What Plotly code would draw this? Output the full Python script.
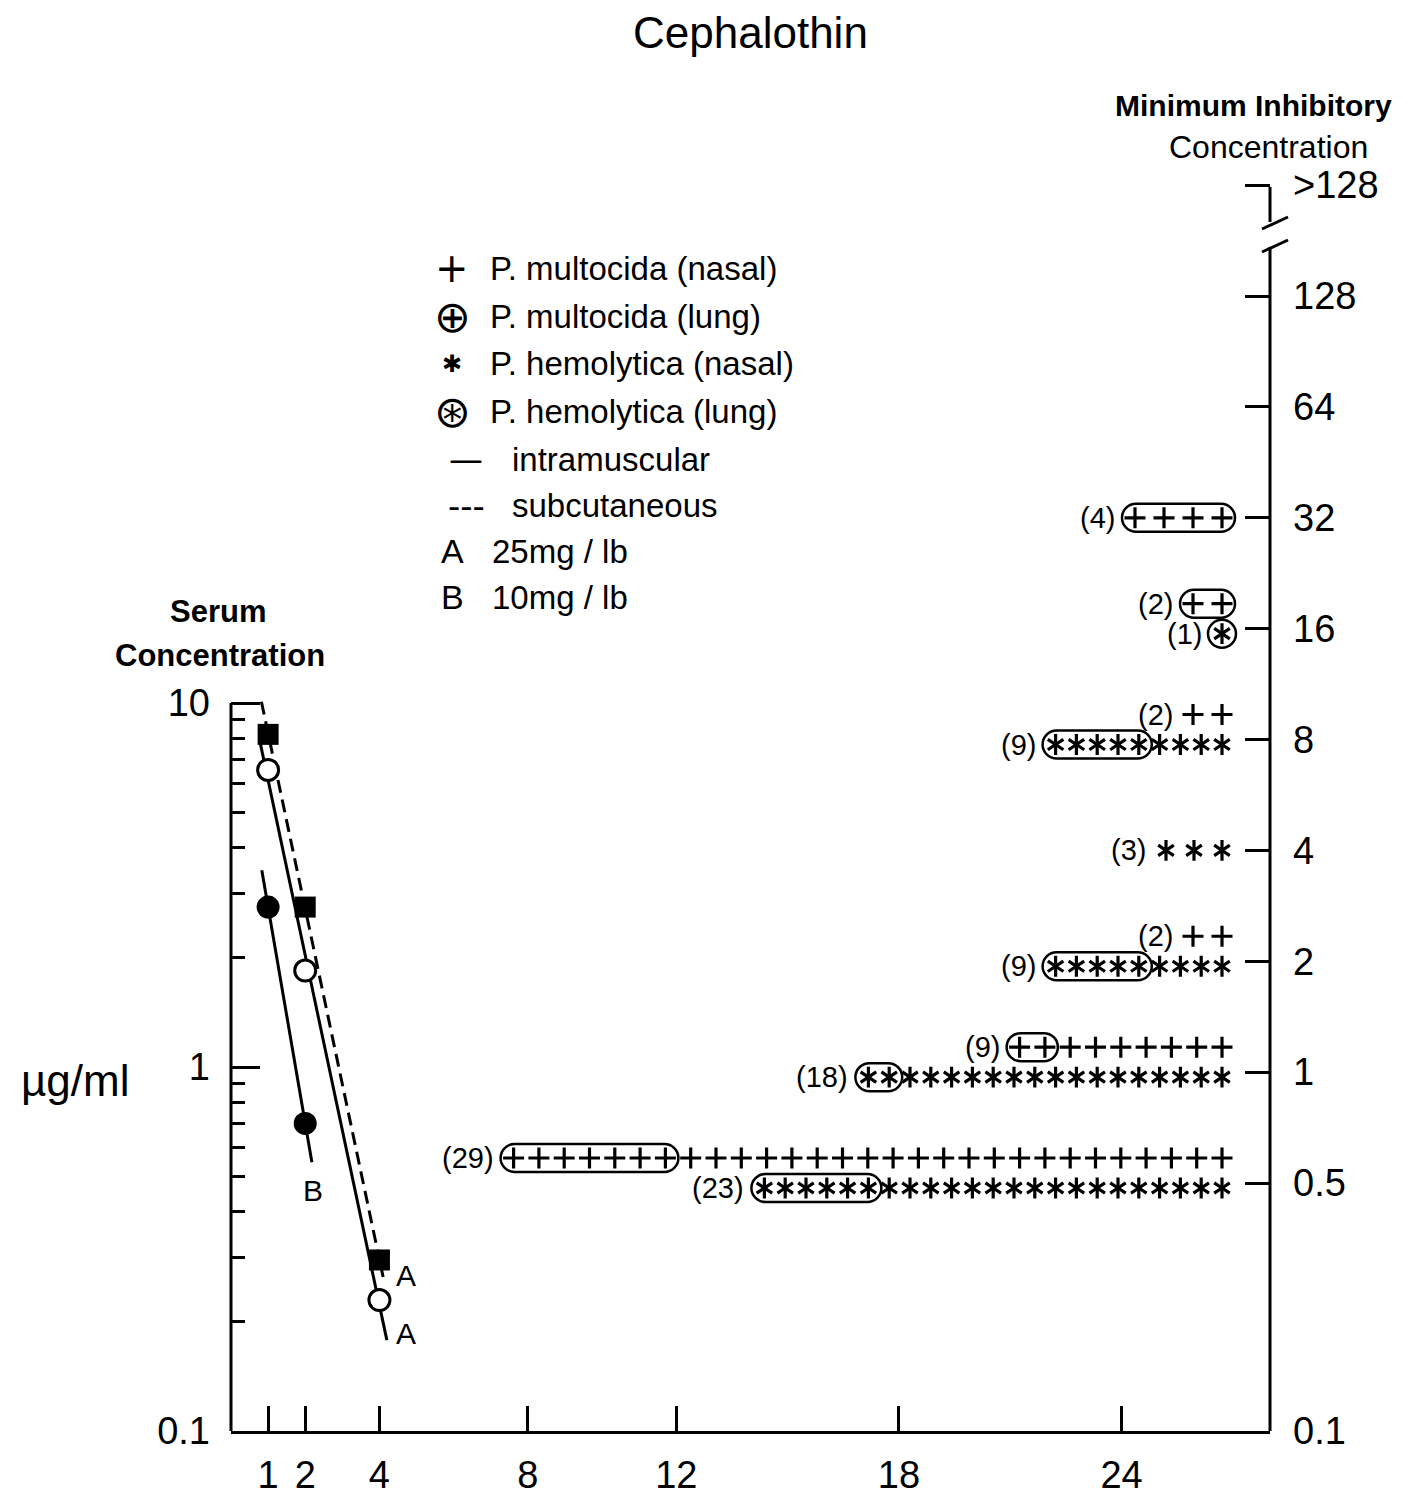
import numpy as np
import plotly.graph_objects as go

# ---------------- data ----------------
# Serum concentration (µg/ml) versus time (hours)
time_A = [1, 2, 4]
sc_A = [8.2, 2.75, 0.295]      # subcutaneous, 25 mg/lb (filled squares)
im_A = [6.55, 1.84, 0.229]     # intramuscular, 25 mg/lb (open circles)
time_B = [1, 2]
im_B = [2.75, 0.70]            # intramuscular, 10 mg/lb (filled circles)
# hours spanned by each fitted decay line
sc_A_span = [0.82, 4.1]
im_A_span = [0.78, 4.2]
im_B_span = [0.83, 2.18]

# Minimum inhibitory concentration distribution (number of isolates)
mic_levels = [32, 16, 8, 4, 2, 1, 0.5]
mult_nasal = [0, 0, 2, 0, 2, 7, 22]
mult_lung = [4, 2, 0, 0, 0, 2, 7]
hemo_nasal = [0, 0, 4, 3, 4, 16, 17]
hemo_lung = [0, 1, 5, 0, 5, 2, 6]

hour_ticks = [1, 2, 4, 8, 12, 18, 24]
serum_ticks = [0.1, 1, 10]
serum_ticktext = ["0.1", "1", "10"]
serum_minor = [0.2, 0.3, 0.4, 0.5, 0.6, 0.7, 0.8, 0.9, 2, 3, 4, 5, 6, 7, 8, 9]
mic_ticks = [0.5, 1, 2, 4, 8, 16, 32, 64, 128, 256]
mic_ticktext = ["0.5", "1", "2", "4", "8", "16", "32", "64", "128", ">128"]

# ---------------- geometry ----------------
W, H = 1415, 1496
L, R, T, B = 231, 145, 150, 65
PW, PH = W - L - R, H - T - B
X_MAX = 28
DEC1 = 364.0                      # px per decade, serum axis
Y_LO = -1.0
Y_HI = Y_LO + PH / DEC1
DEC2 = 368.3                      # px per decade, MIC axis
Y2_LO = np.log10(0.5) - 248 / DEC2
Y2_HI = Y2_LO + PH / DEC2
BOT = H - B


def px_x(p):
    return (p - L) / PW


def px_y(p):
    return (BOT - p) / PH


def hr(p):
    return (p - L) / PW * X_MAX


FONT = "Liberation Sans, Arial, DejaVu Sans"
SYM = "DejaVu Sans"

fig = go.Figure()

# ---------------- serum curves ----------------
def fit_line(t, c, span):
    k, b = np.polyfit(np.array(t, float), np.log10(c), 1)
    xs = np.array(span, float)
    return xs, 10 ** (k * xs + b)

for t, c, span, dash in [(time_A, sc_A, sc_A_span, "13px,7px"),
                         (time_A, im_A, im_A_span, "solid"),
                         (time_B, im_B, im_B_span, "solid")]:
    xs, ys = fit_line(t, c, span)
    fig.add_trace(go.Scatter(x=xs, y=ys, mode="lines",
                             line=dict(color="black", width=3, dash=dash),
                             showlegend=False, hoverinfo="skip"))

fig.add_trace(go.Scatter(x=time_A, y=sc_A, mode="markers", showlegend=False,
                         marker=dict(symbol="square", size=21, color="black")))
fig.add_trace(go.Scatter(x=time_A, y=im_A, mode="markers", showlegend=False,
                         marker=dict(symbol="circle", size=21, color="white",
                                     line=dict(color="black", width=3))))
fig.add_trace(go.Scatter(x=time_B, y=im_B, mode="markers", showlegend=False,
                         marker=dict(symbol="circle", size=23, color="black")))

# ---------------- MIC rows ----------------
ROW_RIGHT = 1222
plus_x, plus_y, star_x, star_y = [], [], [], []
shapes = []
annotations = []


def capsule_path(w, r):
    k = 0.5523 * r
    a = w - r
    return (f"M{-a:.1f},{-r} L{a:.1f},{-r} C{a + k:.1f},{-r} {w:.1f},{-k:.1f} {w:.1f},0 "
            f"C{w:.1f},{k:.1f} {a + k:.1f},{r} {a:.1f},{r} L{-a:.1f},{r} "
            f"C{-a - k:.1f},{r} {-w:.1f},{k:.1f} {-w:.1f},0 "
            f"C{-w:.1f},{-k:.1f} {-a - k:.1f},{-r} {-a:.1f},{-r} Z")


for i, lev in enumerate(mic_levels):
    nm = mult_lung[i] + mult_nasal[i]
    nh = hemo_lung[i] + hemo_nasal[i]
    both = nm > 0 and nh > 0
    rows = []
    if nm:
        rows.append(("plus", mult_lung[i], nm, 25.3 if nm > 4 else 29,
                     lev * 10 ** (25 / DEC2) if both else lev))
    if nh:
        rows.append(("star", hemo_lung[i], nh, 20.8 if nh > 4 else 28,
                     lev * 10 ** (-5 / DEC2) if both else lev))
    for kind, nl, n, sp, yv in rows:
        pos = [ROW_RIGHT - (n - 1 - j) * sp for j in range(n)]
        xs = [hr(p) for p in pos]
        if kind == "plus":
            plus_x += xs
            plus_y += [yv] * n
        else:
            star_x += xs
            star_y += [yv] * n
        if nl:
            cpx = np.mean(pos[:nl])
            w = max((nl - 1) * sp / 2 + 13, 14)
            shapes.append(dict(type="path", xref="x", yref="y2",
                               xsizemode="pixel", ysizemode="pixel",
                               xanchor=hr(cpx), yanchor=yv,
                               path=capsule_path(w, 14),
                               line=dict(color="black", width=2.5)))
        annotations.append(dict(x=xs[0], y=np.log10(yv), xref="x", yref="y2",
                                text=f"({n})", showarrow=False, xanchor="right",
                                yanchor="middle", xshift=-18,
                                font=dict(size=29, family=FONT, color="black")))

fig.add_trace(go.Scatter(x=plus_x, y=plus_y, yaxis="y2", mode="markers",
                         showlegend=False,
                         marker=dict(symbol="cross-thin-open", size=15, color="black",
                                     line=dict(color="black", width=3.2))))
for sym in ["y-up-open", "y-down-open"]:
    fig.add_trace(go.Scatter(x=star_x, y=star_y, yaxis="y2", mode="markers",
                             showlegend=False,
                             marker=dict(symbol=sym, size=13, color="black",
                                         line=dict(color="black", width=3.2))))

# ---------------- axis decorations ----------------
blk = dict(color="black", width=3)
# left serum axis line (0.1 .. 10)
shapes.append(dict(type="line", xref="paper", yref="y", x0=0, x1=0, y0=0.1, y1=10, line=blk))
# right MIC axis with break
shapes.append(dict(type="line", xref="paper", yref="paper", x0=1, x1=1,
                   y0=0, y1=px_y(247), line=blk))
shapes.append(dict(type="line", xref="paper", yref="paper", x0=1, x1=1,
                   y0=px_y(187), y1=px_y(222), line=blk))
for ya, yb in [(229, 217), (252, 240)]:
    shapes.append(dict(type="line", xref="paper", yref="paper",
                       x0=px_x(1262), x1=px_x(1288), y0=px_y(ya), y1=px_y(yb), line=blk))


def txt(x, y, s, size, family=FONT, anchor="center", bold=False):
    if bold:
        s = f"<b>{s}</b>"
    annotations.append(dict(x=px_x(x), y=px_y(y), xref="paper", yref="paper",
                            text=s, showarrow=False, xanchor=anchor, yanchor="middle",
                            font=dict(size=size, family=family, color="black")))


txt(750, 33, "Cephalothin", 44)
txt(1253, 106, "Minimum Inhibitory", 30, bold=True)
txt(1268, 147, "Concentration", 32)
txt(218, 611, "Serum", 31, bold=True)
txt(220, 655, "Concentration", 31, bold=True)
txt(75, 1080, "µg/ml", 44)

# legend
leg_rows = [(268, "+", 40, "P. multocida (nasal)", 488),
            (316, "⊕", 44, "P. multocida (lung)", 488),
            (364, "✱", 24, "P. hemolytica (nasal)", 488),
            (411, "⊛", 44, "P. hemolytica (lung)", 488),
            (459, "—", 34, "intramuscular", 510),
            (506, "---", 34, "subcutaneous", 510),
            (551, "A", 34, "25mg / lb", 490),
            (597, "B", 34, "10mg / lb", 490)]
for yy, sym, ssz, label, tx in leg_rows:
    sx = 466 if sym in ("—", "---") else 452
    txt(sx, yy, sym, ssz, family=SYM if sym not in ("A", "B") else FONT)
    txt(tx, yy, label, 33, anchor="left")

# curve labels
txt(313, 1190, "B", 30)
txt(406, 1275, "A", 30)
txt(406, 1333, "A", 30)

tickfont = dict(size=38, family=FONT, color="black")
fig.update_layout(
    width=W, height=H,
    margin=dict(l=L, r=R, t=T, b=B, pad=0, autoexpand=False),
    paper_bgcolor="white", plot_bgcolor="white",
    font=dict(family=FONT, color="black"),
    showlegend=False,
    xaxis=dict(range=[0, X_MAX], tickvals=hour_ticks, ticks="inside", ticklen=25,
               tickwidth=3, tickcolor="black", showline=True, linewidth=3,
               linecolor="black", showgrid=False, zeroline=False, automargin=False,
               tickfont=tickfont, ticklabelstandoff=8),
    yaxis=dict(type="log", range=[Y_LO, Y_HI], tickvals=serum_ticks,
               ticktext=serum_ticktext, ticks="inside", ticklen=29, tickwidth=3,
               tickcolor="black", showline=False, showgrid=False, zeroline=False,
               automargin=False, tickfont=tickfont, ticklabelstandoff=20,
               minor=dict(tickvals=serum_minor, ticks="inside", ticklen=14,
                          tickwidth=3, tickcolor="black", showgrid=False)),
    yaxis2=dict(type="log", range=[Y2_LO, Y2_HI], overlaying="y", side="right",
                tickvals=[10 ** Y2_LO] + mic_ticks, ticktext=["0.1"] + mic_ticktext,
                ticks="inside", ticklen=25, tickwidth=3, tickcolor="black",
                showline=False, showgrid=False, zeroline=False, automargin=False,
                tickfont=tickfont, ticklabelstandoff=22),
    shapes=shapes,
    annotations=annotations,
)

fig.write_html("out.html", config={"displayModeBar": False},
               post_script="document.body.style.margin='0';")
